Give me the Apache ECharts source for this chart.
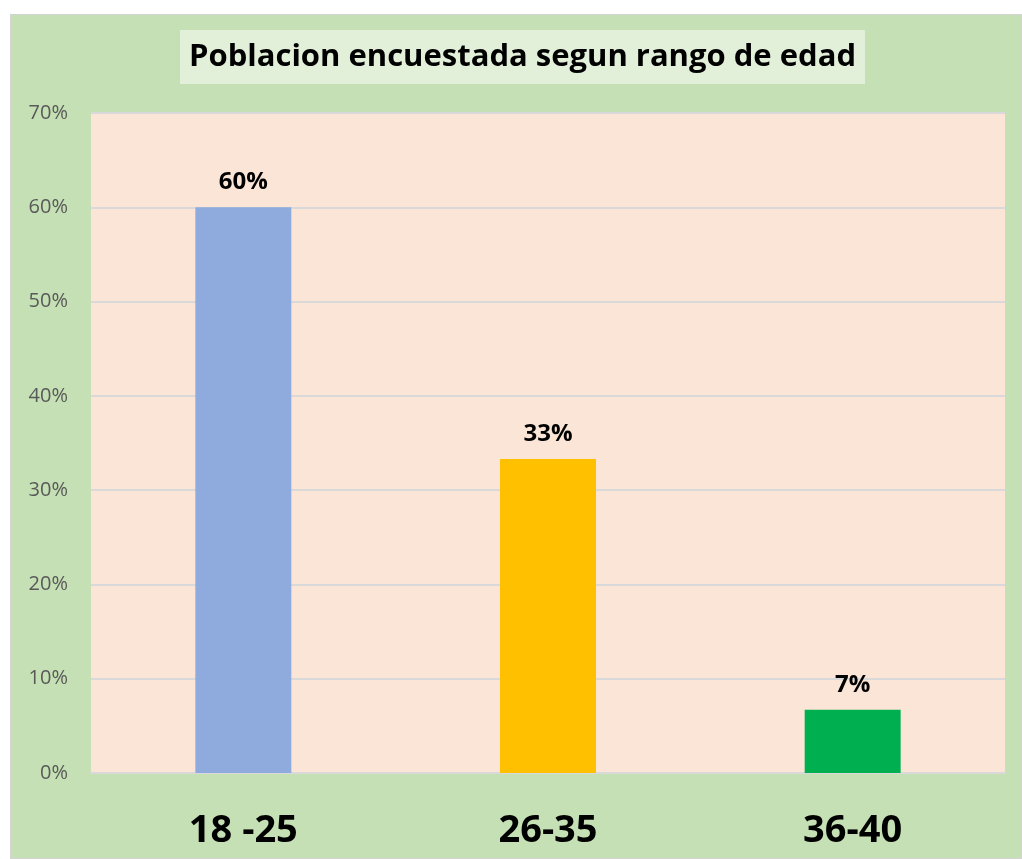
<!DOCTYPE html>
<html>
<head>
<meta charset="UTF-8">
<title>Poblacion encuestada segun rango de edad</title>
<script type="text/javascript" src="https://cdn.jsdelivr.net/npm/echarts@6/dist/echarts.min.js"></script>
<style>
	body { margin: 0; background: #ffffff; }
	#chartmain {
		position: absolute; left: 10px; top: 14px;
		width: 1012px; height: 845px;
		box-sizing: border-box; border: 1px solid #d4d4d4;
		background: #c5e0b4;
	}
</style>
</head>
<body>
	<div id="chartmain"></div>
<script type="text/javascript">
	// datos
	var categorias = ['18 -25', '26-35', '36-40'];
	var valores = [60, 33.3, 6.7];
	var etiquetas = ['60%', '33%', '7%'];
	var colores = ['#8faadc', '#ffc000', '#00b050'];

	var myChart = echarts.init(document.getElementById('chartmain'));
	myChart.setOption({
		animation: false,
		title: {
			text: 'Poblacion encuestada segun rango de edad',
			left: 169,
			top: 15,
			backgroundColor: '#e2f0d9',
			padding: [10, 9, 10, 9],
			textStyle: {
				fontFamily: 'Open Sans',
				fontWeight: 'bold',
				fontSize: 31,
				color: '#000000',
				lineHeight: 34
			}
		},
		grid: {
			left: 80, right: 16, top: 98, bottom: 85,
			show: true,
			backgroundColor: '#fbe5d6',
			borderWidth: 0
		},
		xAxis: {
			type: 'category',
			data: categorias,
			axisTick: { show: false },
			axisLine: { lineStyle: { color: '#d9d9d9', width: 2 } },
			axisLabel: {
				margin: 39,
				fontFamily: 'Open Sans',
				fontWeight: 'bold',
				fontSize: 38,
				color: '#000000'
			}
		},
		yAxis: {
			type: 'value',
			min: 0, max: 70, interval: 10,
			axisLine: { show: false },
			axisTick: { show: false },
			splitLine: { lineStyle: { color: '#d9d9d9', width: 2 } },
			axisLabel: {
				margin: 23,
				formatter: '{value}%',
				fontFamily: 'Open Sans',
				fontSize: 20,
				color: '#595959'
			}
		},
		series: [{
			type: 'bar',
			barWidth: '31.5%',
			data: valores.map(function (v, i) {
				return { value: v, itemStyle: { color: colores[i] } };
			}),
			label: {
				show: true,
				position: 'top',
				distance: 13,
				formatter: function (p) { return etiquetas[p.dataIndex]; },
				fontFamily: 'Open Sans',
				fontWeight: 'bold',
				fontSize: 24,
				color: '#000000'
			}
		}]
	});
</script>
</body>
</html>
